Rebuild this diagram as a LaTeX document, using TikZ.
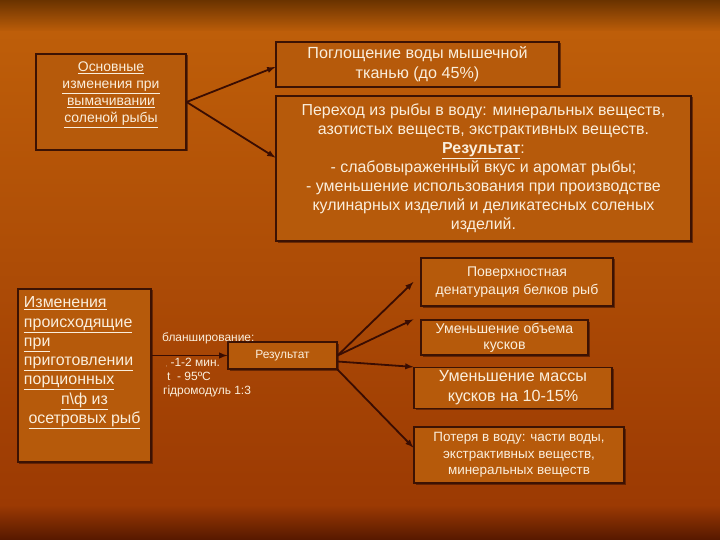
\documentclass[tikz,border=0pt]{standalone}
\usepackage{fontspec}
\setmainfont{Liberation Sans}
\usetikzlibrary{arrows}
\usetikzlibrary{shadows}
\definecolor{bgtop}{HTML}{6A3300}
\definecolor{bgmid}{HTML}{BE5E09}
\definecolor{bglow}{HTML}{9C3A03}
\definecolor{bgbot}{HTML}{561800}
\definecolor{boxfill}{HTML}{B65A0B}
\definecolor{boxline}{HTML}{3C1203}
\definecolor{arrcol}{HTML}{3A0D02}
\definecolor{txt}{HTML}{FAEEDC}

\begin{document}
\begin{tikzpicture}[x=1bp,y=-1bp]
    \tikzstyle{every node}=[text=txt,inner sep=0pt];
    \tikzstyle{box}=[draw=boxline,line width=1.2bp,fill=boxfill,align=center,drop shadow={shadow xshift=1.5bp,shadow yshift=-1.5bp,fill=boxline,opacity=.6}];
    \tikzstyle{arr}=[-latex,line width=1.8bp,draw=arrcol];

    % background
    \useasboundingbox (0,0) rectangle (720,540);
    \shade[top color=bgtop,bottom color=bgmid] (0,0) rectangle (720,32);
    \shade[top color=bgmid,bottom color=bglow] (0,32) rectangle (720,505);
    \shade[top color=bglow,bottom color=bgbot] (0,505) rectangle (720,540);

    % soaking
    \node[box,minimum width=150bp,minimum height=96bp] (osn) at (111,102) {\begin{minipage}[c][96bp][t]{144bp}\vspace*{8bp}\centering\fontsize{14}{17}\selectfont
      \underline{Основные}\\ \underline{изменения при}\\ \underline{вымачивании}\\ \underline{соленой рыбы}\end{minipage}};
    \node[box,minimum width=283bp,minimum height=45bp,font=\fontsize{16.2}{20}\selectfont] (pogl) at (417.5,64.5) {Поглощение воды мышечной\\ тканью (до 45\%)};
    \node[box,minimum width=415bp,minimum height=145bp,font=\fontsize{16}{19}\selectfont] (perehod) at (483.5,168.5) {Переход из рыбы в воду: минеральных веществ,\\ азотистых веществ, экстрактивных веществ.\\ \underline{\textbf{Результат}}:\\ - слабовыраженный вкус и аромат рыбы;\\ - уменьшение использования при производстве\\ кулинарных изделий и деликатесных соленых\\ изделий.};

    % cooking
    \node[box,minimum width=133bp,minimum height=173bp] (izm) at (84.5,375.5) {\begin{minipage}[c][173bp][t]{121bp}\vspace*{8bp}\fontsize{16}{19.3}\selectfont\raggedright
      \underline{Изменения}\\ \underline{происходящие}\\ \underline{при}\\ \underline{приготовлении}\\ \underline{порционных}\par
      \centering\underline{п\textbackslash ф из}\\ \underline{осетровых рыб}\par\end{minipage}};
    \node[box,minimum width=109bp,minimum height=27bp,font=\fontsize{12}{14}\selectfont] (rez) at (282.5,355.5) {Результат};
    \node[box,minimum width=192bp,minimum height=48bp,font=\fontsize{14.1}{18}\selectfont] (poverh) at (517,282) {Поверхностная\\ денатурация белков рыб};
    \node[box,minimum width=167bp,minimum height=35bp,font=\fontsize{14.2}{16}\selectfont] (obem) at (504.5,337.5) {Уменьшение объема\\ кусков};
    \node[box,minimum width=198bp,minimum height=41bp,font=\fontsize{16.2}{20}\selectfont] (massa) at (513,388) {Уменьшение массы\\ кусков на 10-15\%};
    \node[box,minimum width=210bp,minimum height=56bp,font=\fontsize{13.5}{16.5}\selectfont] (poterya) at (519,455) {Потеря в воду: части воды,\\ экстрактивных веществ,\\ минеральных веществ};

    \node[anchor=west,font=\fontsize{12}{14}\selectfont] (blansh) at (162,338) {бланширование:};
    \node[anchor=north west,align=left,font=\fontsize{12}{14}\selectfont] (rezhim) at (163,358) {\hspace{3bp}{\tiny ,}\hspace{3bp}-1-2 мин.\\ \hspace{4bp}t\ \ - 95ºC\\ гідромодуль 1:3};

    \draw[arr] (osn.east) -- (pogl.181.8);
    \draw[arr] (osn.east) -- (perehod.177.1);
    \draw[arr] (izm.east |- rez.west) -- (rez.west);
    \draw[arr] (rez.east) -- ([xshift=-7bp]poverh.west);
    \draw[arr] (rez.east) -- ([xshift=-7bp]obem.north west);
    \draw[arr] ([yshift=-6bp]rez.east) -- (massa.north west);
    \draw[arr] (rez.south east) -- (poterya.176.2);
\end{tikzpicture}
\end{document}
